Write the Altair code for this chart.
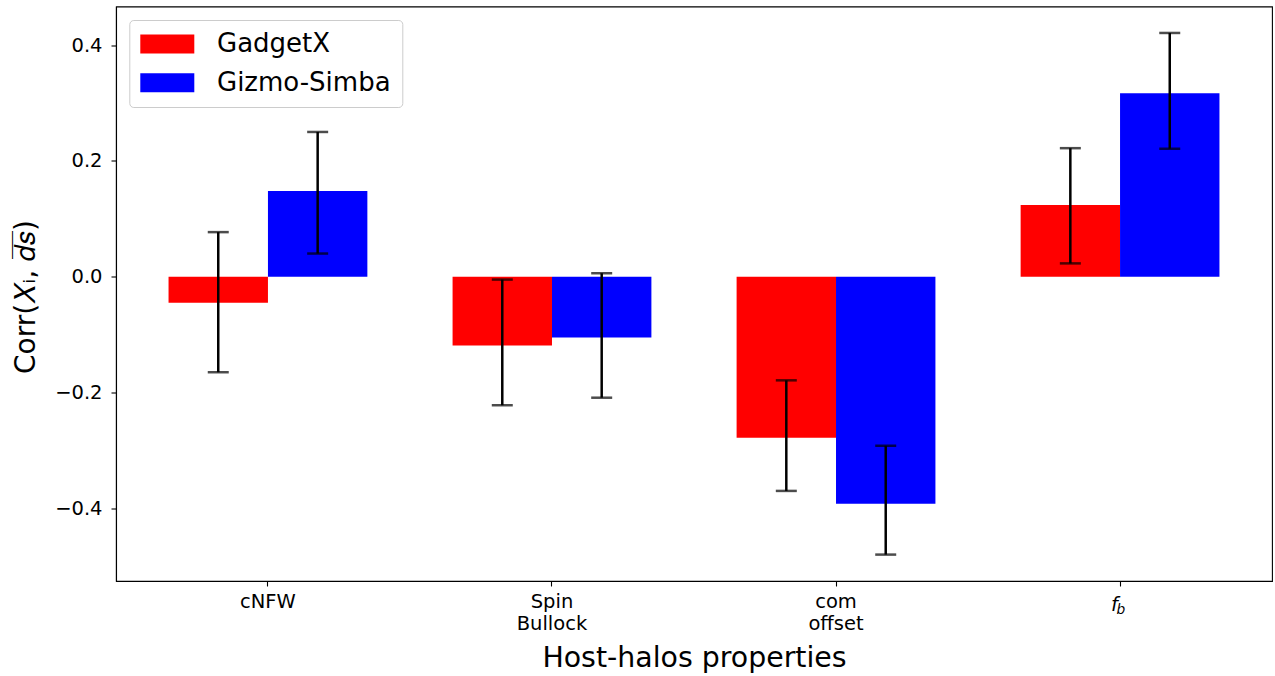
import altair as alt
import pandas as pd

# Host-halo properties on the x axis
props = ["cNFW", "Spin Bullock", "com offset", "f_b"]
series = ["GadgetX", "Gizmo-Simba"]
colors = ["#ff0000", "#0000ff"]

# Correlation coefficients and their error-bar bounds
gadget_val = [-0.045, -0.119, -0.278, 0.124]
gadget_lo = [-0.165, -0.222, -0.370, 0.023]
gadget_hi = [0.077, -0.005, -0.179, 0.222]

gizmo_val = [0.148, -0.105, -0.392, 0.317]
gizmo_lo = [0.040, -0.209, -0.480, 0.221]
gizmo_hi = [0.250, 0.006, -0.292, 0.421]

y_ticks = [-0.4, -0.2, 0.0, 0.2, 0.4]

rows = []
for name, vals, los, his in [
    (series[0], gadget_val, gadget_lo, gadget_hi),
    (series[1], gizmo_val, gizmo_lo, gizmo_hi),
]:
    for p, v, lo, hi in zip(props, vals, los, his):
        rows.append({"prop": p, "series": name, "value": v, "lo": lo, "hi": hi})
df = pd.DataFrame(rows)

FONT = "DejaVu Sans"

x_enc = alt.X(
    "prop:N",
    sort=props,
    scale=alt.Scale(paddingInner=0.3, paddingOuter=0.185),
    axis=alt.Axis(
        title="Host-halos properties",
        titleFontSize=28.4,
        titleY=85,
        titleBaseline="alphabetic",
        labelExpr="datum.value == 'f_b' ? '' : split(datum.value, ' ')",
        labelAngle=0,
        labelFontSize=19.5,
        labelLineHeight=22.7,
        labelPadding=6,
        tickSize=5,
    ),
)
xoff_enc = alt.XOffset("series:N", sort=series, scale=alt.Scale(paddingInner=0, paddingOuter=0))

y_scale = alt.Scale(domain=[-0.5256, 0.4667], nice=False, zero=False)

base = alt.Chart(df).encode(x=x_enc, xOffset=xoff_enc)

bars = base.mark_bar(opacity=1).encode(
    y=alt.Y(
        "value:Q",
        scale=y_scale,
        axis=alt.Axis(
            values=y_ticks,
            format=".1f",
            title="Corr(𝑋ᵢ, 𝑑̅𝑠̅)",
            titleFontSize=28,
            titleX=-82,
            titleY=290,
            titleBaseline="alphabetic",
            labelFontSize=19.5,
            labelPadding=9,
            tickSize=5,
        ),
    ),
    y2=alt.datum(0),
    color=alt.Color(
        "series:N",
        sort=series,
        scale=alt.Scale(domain=series, range=colors),
        legend=alt.Legend(
            title=None,
            orient="none",
            legendX=13.3,
            legendY=13.5,
            labelFontSize=26,
            labelFont=FONT,
            labelColor="black",
            labelLimit=500,
            symbolType="M-1,-0.731 L3.154,-0.731 L3.154,0.731 L-1,0.731 Z",
            symbolSize=676,
            symbolStrokeWidth=0,
            symbolOpacity=1,
            labelOffset=50.7,
            padding=11,
            rowPadding=12.8,
            fillColor="rgba(255,255,255,0.8)",
            strokeColor="#cccccc",
            cornerRadius=4,
        ),
    ),
)

err = base.mark_rule(color="black", strokeWidth=2.5).encode(
    y=alt.Y("lo:Q", scale=y_scale), y2="hi:Q"
)
cap_lo = base.mark_tick(color="black", thickness=2.5, size=21, orient="horizontal").encode(
    y=alt.Y("lo:Q", scale=y_scale)
)
cap_hi = base.mark_tick(color="black", thickness=2.5, size=21, orient="horizontal").encode(
    y=alt.Y("hi:Q", scale=y_scale)
)

# Math-style tick label for the baryon fraction f_b
fb = pd.DataFrame({"prop": ["f_b"]})
fb_f = alt.Chart(fb).mark_text(
    text="f", font=FONT, fontStyle="italic", fontSize=19.5, align="left",
    baseline="alphabetic", dx=-9, color="black",
).encode(x=alt.X("prop:N", sort=props), y=alt.value(604.5))
fb_b = alt.Chart(fb).mark_text(
    text="b", font=FONT, fontStyle="italic", fontSize=13.8, align="left",
    baseline="alphabetic", dx=-3.5, color="black",
).encode(x=alt.X("prop:N", sort=props), y=alt.value(607))

chart = (
    alt.layer(bars, err, cap_lo, cap_hi, fb_f, fb_b)
    .properties(
        width=1156,
        height=574.5,
        autosize=alt.AutoSizeParams(type="none"),
        padding={"left": 116, "top": 6.5, "right": 3, "bottom": 95},
        background="white",
    )
    .configure_view(stroke="black", strokeWidth=1.1)
    .configure_axis(
        labelFont=FONT,
        titleFont=FONT,
        titleFontWeight="normal",
        labelColor="black",
        titleColor="black",
        tickColor="black",
        domainColor="black",
        domainWidth=1.1,
        tickWidth=1.1,
        grid=False,
    )
)

chart.save("out.html", embed_options={"renderer": "svg", "actions": False})
